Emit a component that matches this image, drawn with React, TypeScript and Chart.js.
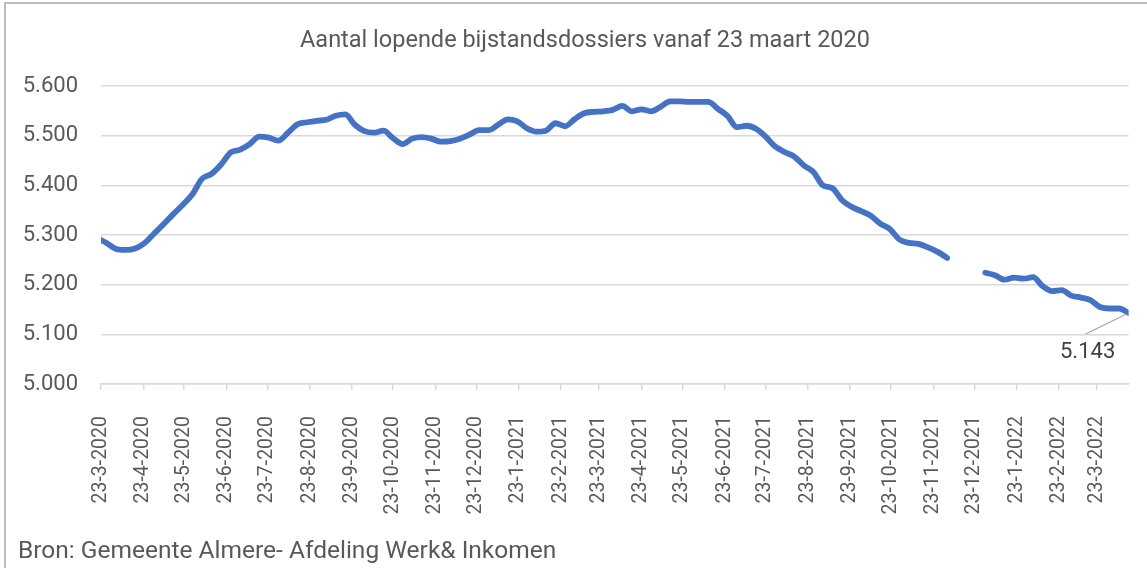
import React, { useEffect, useRef } from "react";
import { Chart, registerables } from "chart.js";

Chart.register(...registerables);

const chartTitle = "Aantal lopende bijstandsdossiers vanaf 23 maart 2020";
const sourceText = "Bron: Gemeente Almere- Afdeling Werk& Inkomen";

const firstDate = "23-3-2020";
const weeklyStart = "27-3-2020";

const tickLabels = [
  "23-3-2020", "23-4-2020", "23-5-2020", "23-6-2020", "23-7-2020", "23-8-2020",
  "23-9-2020", "23-10-2020", "23-11-2020", "23-12-2020", "23-1-2021", "23-2-2021",
  "23-3-2021", "23-4-2021", "23-5-2021", "23-6-2021", "23-7-2021", "23-8-2021",
  "23-9-2021", "23-10-2021", "23-11-2021", "23-12-2021", "23-1-2022", "23-2-2022",
  "23-3-2022",
];

// first value on 23-3-2020, then weekly values from 27-3-2020
const dossiers: (number | null)[] = [
  5290,
  5284, 5272, 5270, 5273, 5284, 5303, 5322, 5342, 5361, 5382,
  5413, 5423, 5442, 5466, 5472, 5483, 5498, 5496, 5490, 5506,
  5523, 5527, 5530, 5532, 5540, 5543, 5522, 5509, 5506, 5510,
  5495, 5483, 5494, 5497, 5494, 5488, 5489, 5494, 5502, 5511,
  5511, 5522, 5533, 5529, 5515, 5508, 5510, 5525, 5519, 5533,
  5545, 5548, 5549, 5552, 5560, 5549, 5553, 5549, 5558, 5569,
  5569, 5568, 5568, 5568, 5554, 5540, 5517, 5520, 5514, 5498,
  5478, 5467, 5458, 5440, 5427, 5400, 5394, 5370, 5357, 5348,
  5339, 5323, 5312, 5291, 5284, 5282, 5275, 5266, 5254, null,
  null, null, 5224, 5219, 5210, 5214, 5212, 5215, 5197, 5187,
  5189, 5178, 5174, 5169, 5155, 5152, 5152, 5143,
];

const lastValueLabel = "5.143";

const yMin = 5000;
const yMax = 5600;
const yStep = 100;

function parseDay(s: string): number {
  const [d, m, y] = s.split("-").map(Number);
  return Date.UTC(y, m - 1, d) / 86400000;
}

const day0 = parseDay(firstDate);
const weekStartDay = parseDay(weeklyStart) - day0;
const tickDays = tickLabels.map((l) => parseDay(l) - day0);
const labelByDay = new Map<number, string>(tickDays.map((d, i) => [d, tickLabels[i]]));
const pointDays = dossiers.map((_, i) => (i === 0 ? 0 : weekStartDay + 7 * (i - 1)));
const lastDay = pointDays[pointDays.length - 1];

function fmt(v: number): string {
  const th = Math.floor(v / 1000);
  const rest = Math.round(v % 1000);
  return `${th}.${String(rest).padStart(3, "0")}`;
}

const FONT = "Roboto";
const TEXT = "#595959";

const lastLabelPlugin = {
  id: "lastLabel",
  afterDatasetsDraw(chart: any) {
    const meta = chart.getDatasetMeta(0);
    const pt = meta.data[meta.data.length - 1];
    if (!pt) return;
    const ctx = chart.ctx;
    ctx.save();
    ctx.strokeStyle = "#a6a6a6";
    ctx.lineWidth = 1.2;
    ctx.beginPath();
    ctx.moveTo(pt.x - 2, pt.y + 1);
    ctx.lineTo(pt.x - 43, pt.y + 21);
    ctx.stroke();
    ctx.font = `22px ${FONT}`;
    ctx.fillStyle = "#404040";
    ctx.textAlign = "center";
    ctx.textBaseline = "middle";
    ctx.fillText(lastValueLabel, pt.x - 41, pt.y + 40);
    ctx.restore();
  },
};

export default function App() {
  const canvasRef = useRef<HTMLCanvasElement | null>(null);

  useEffect(() => {
    if (!canvasRef.current) return;
    const chart = new Chart(canvasRef.current, {
      type: "line",
      data: {
        datasets: [
          {
            data: dossiers.map((v, i) => ({ x: pointDays[i], y: v })) as any,
            borderColor: "#4472C4",
            backgroundColor: "#4472C4",
            borderWidth: 5.8,
            pointRadius: 0,
            cubicInterpolationMode: "monotone",
            spanGaps: false,
            borderCapStyle: "round",
            borderJoinStyle: "round",
            fill: false,
          },
        ],
      },
      options: {
        animation: false,
        responsive: false,
        maintainAspectRatio: false,
        layout: { padding: { top: 86, right: 12, left: 0, bottom: 0 } },
        plugins: {
          legend: { display: false },
          tooltip: { enabled: false },
          title: { display: false },
        },
        scales: {
          x: {
            type: "linear",
            min: 0,
            max: lastDay,
            afterBuildTicks: (s: any) => {
              s.ticks = tickDays.map((v) => ({ value: v }));
            },
            afterFit: (s: any) => {
              s.height = 184;
            },
            grid: {
              drawOnChartArea: false,
              drawTicks: true,
              tickLength: 6,
              color: "#d9d9d9",
              lineWidth: 1.5,
            },
            border: { display: true, color: "#d9d9d9", width: 1.5 },
            ticks: {
              autoSkip: false,
              maxRotation: 90,
              minRotation: 90,
              padding: 26,
              font: { family: FONT, size: 19.5 },
              color: TEXT,
              callback: (v: any) => labelByDay.get(Number(v)) ?? "",
            },
          },
          y: {
            min: yMin,
            max: yMax,
            afterFit: (s: any) => {
              s.width = 101;
            },
            ticks: {
              stepSize: yStep,
              padding: 23,
              font: { family: FONT, size: 22 },
              color: TEXT,
              callback: (v: any) => fmt(Number(v)),
            },
            grid: { color: "#d9d9d9", lineWidth: 1.5, drawTicks: false },
            border: { display: false },
          },
        },
      },
      plugins: [lastLabelPlugin],
    } as any);
    return () => chart.destroy();
  }, []);

  return (
    <div
      style={{
        position: "fixed",
        left: 0,
        top: 0,
        width: 1147,
        height: 568,
        overflow: "hidden",
        background: "#ffffff",
        fontFamily: FONT,
      }}
    >
      <div
        style={{
          position: "absolute",
          left: 4,
          top: 2,
          width: 1200,
          height: 600,
          border: "2px solid #bdbdbd",
          boxSizing: "border-box",
        }}
      />
      <canvas
        ref={canvasRef}
        width={1147}
        height={568}
        style={{ position: "absolute", left: 0, top: 0, display: "block" }}
      />
      <div
        style={{
          position: "absolute",
          left: 0,
          top: 28,
          width: 1170,
          textAlign: "center",
          fontSize: 23.5,
          lineHeight: "23.5px",
          color: TEXT,
          whiteSpace: "nowrap",
        }}
      >
        {chartTitle}
      </div>
      <div
        style={{
          position: "absolute",
          left: 18,
          top: 538,
          fontSize: 24.5,
          lineHeight: "24.5px",
          color: TEXT,
          whiteSpace: "nowrap",
        }}
      >
        {sourceText}
      </div>
    </div>
  );
}
